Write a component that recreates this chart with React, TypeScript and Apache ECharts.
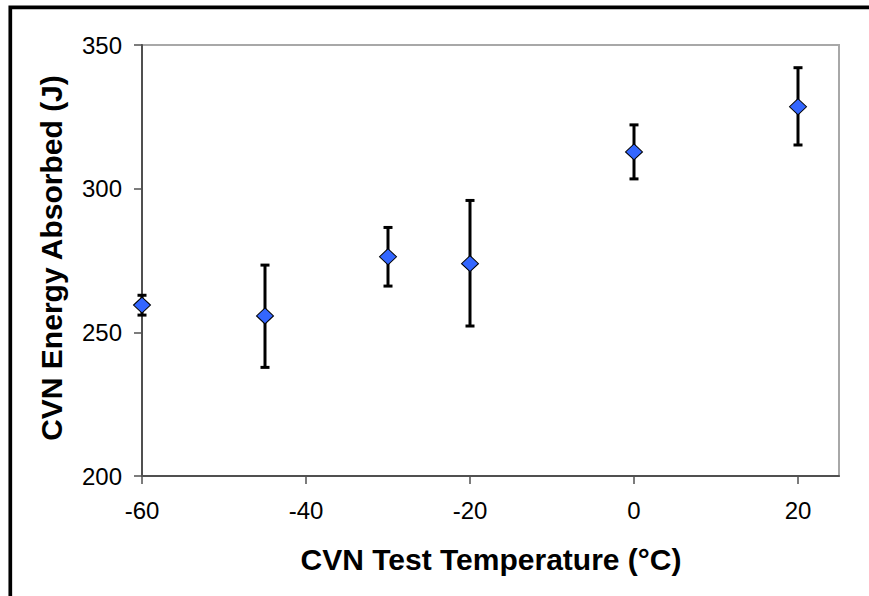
import React, { useEffect, useRef } from "react";
import * as echarts from "echarts";

const temperatures = [-60, -45, -30, -20, 0, 20];
const energyMean = [259.5, 255.7, 276.3, 273.9, 312.8, 328.5];
const energyLow = [256.0, 237.8, 266.1, 252.2, 303.4, 315.2];
const energyHigh = [262.9, 273.4, 286.5, 295.9, 322.2, 342.1];
const xTicks = [-60, -40, -20, 0, 20];
const yTicks = [200, 250, 300, 350];

export default function App() {
  const ref = useRef<HTMLDivElement>(null);
  useEffect(() => {
    if (!ref.current) return;
    const chart = echarts.init(ref.current, undefined, { renderer: "svg" });
    const font = "'Liberation Sans', Arial, sans-serif";
    const axisColor = "#505050";
    chart.setOption({
      animation: false,
      backgroundColor: "#ffffff",
      grid: {
        left: 142,
        top: 45,
        right: 30,
        bottom: 120,
        show: true,
        borderColor: "#a8a8a8",
        borderWidth: 2,
        backgroundColor: "transparent",
      },
      xAxis: {
        type: "value",
        min: -60,
        max: 25,
        interval: 20,
        splitLine: { show: false },
        axisLine: { show: true, onZero: false, lineStyle: { color: axisColor, width: 2 } },
        axisTick: { show: true, length: 8, customValues: xTicks, lineStyle: { color: axisColor, width: 1.5 } },
        axisLabel: {
          customValues: xTicks,
          margin: 22,
          color: "#000",
          fontFamily: font,
          fontSize: 24,
        },
      },
      yAxis: {
        type: "value",
        min: 200,
        max: 350,
        interval: 50,
        splitLine: { show: false },
        axisLine: { show: true, onZero: false, lineStyle: { color: axisColor, width: 2 } },
        axisTick: { show: true, length: 8, customValues: yTicks, lineStyle: { color: axisColor, width: 1.5 } },
        axisLabel: {
          customValues: yTicks,
          margin: 20,
          color: "#000",
          fontFamily: font,
          fontSize: 24,
        },
      },
      graphic: [
        {
          type: "rect",
          shape: { x: 10.3, y: 7.3, width: 1200, height: 1200 },
          style: { fill: "none", stroke: "#000", lineWidth: 3.7 },
          silent: true,
        },
        {
          type: "text",
          x: 491,
          y: 559,
          style: {
            text: "CVN Test Temperature (°C)",
            font: `bold 30px ${font}`,
            fill: "#000",
            align: "center",
            verticalAlign: "middle",
          },
        },
        {
          type: "text",
          x: 51,
          y: 258,
          rotation: Math.PI / 2,
          style: {
            text: "CVN Energy Absorbed (J)",
            font: `bold 30px ${font}`,
            fill: "#000",
            align: "center",
            verticalAlign: "middle",
          },
        },
      ],
      series: [
        {
          type: "custom",
          data: temperatures.map((t, i) => [t, energyLow[i], energyHigh[i]]),
          renderItem: (params: any, api: any) => {
            const lo = api.coord([api.value(0), api.value(1)]);
            const hi = api.coord([api.value(0), api.value(2)]);
            const cap = 4.5;
            const style = { stroke: "#000", lineWidth: 3 };
            return {
              type: "group",
              children: [
                { type: "line", shape: { x1: lo[0], y1: lo[1], x2: hi[0], y2: hi[1] }, style },
                { type: "line", shape: { x1: lo[0] - cap, y1: lo[1], x2: lo[0] + cap, y2: lo[1] }, style },
                { type: "line", shape: { x1: hi[0] - cap, y1: hi[1], x2: hi[0] + cap, y2: hi[1] }, style },
              ],
            };
          },
          z: 2,
        },
        {
          type: "scatter",
          data: temperatures.map((t, i) => [t, energyMean[i]]),
          symbol: "diamond",
          symbolSize: [17, 16],
          itemStyle: { color: "#3366ff", borderColor: "#000", borderWidth: 1, opacity: 1 },
          z: 3,
        },
      ],
    });
    return () => chart.dispose();
  }, []);
  return (
    <div
      ref={ref}
      style={{ position: "fixed", left: 0, top: 0, width: 869, height: 596, background: "#fff" }}
    />
  );
}
